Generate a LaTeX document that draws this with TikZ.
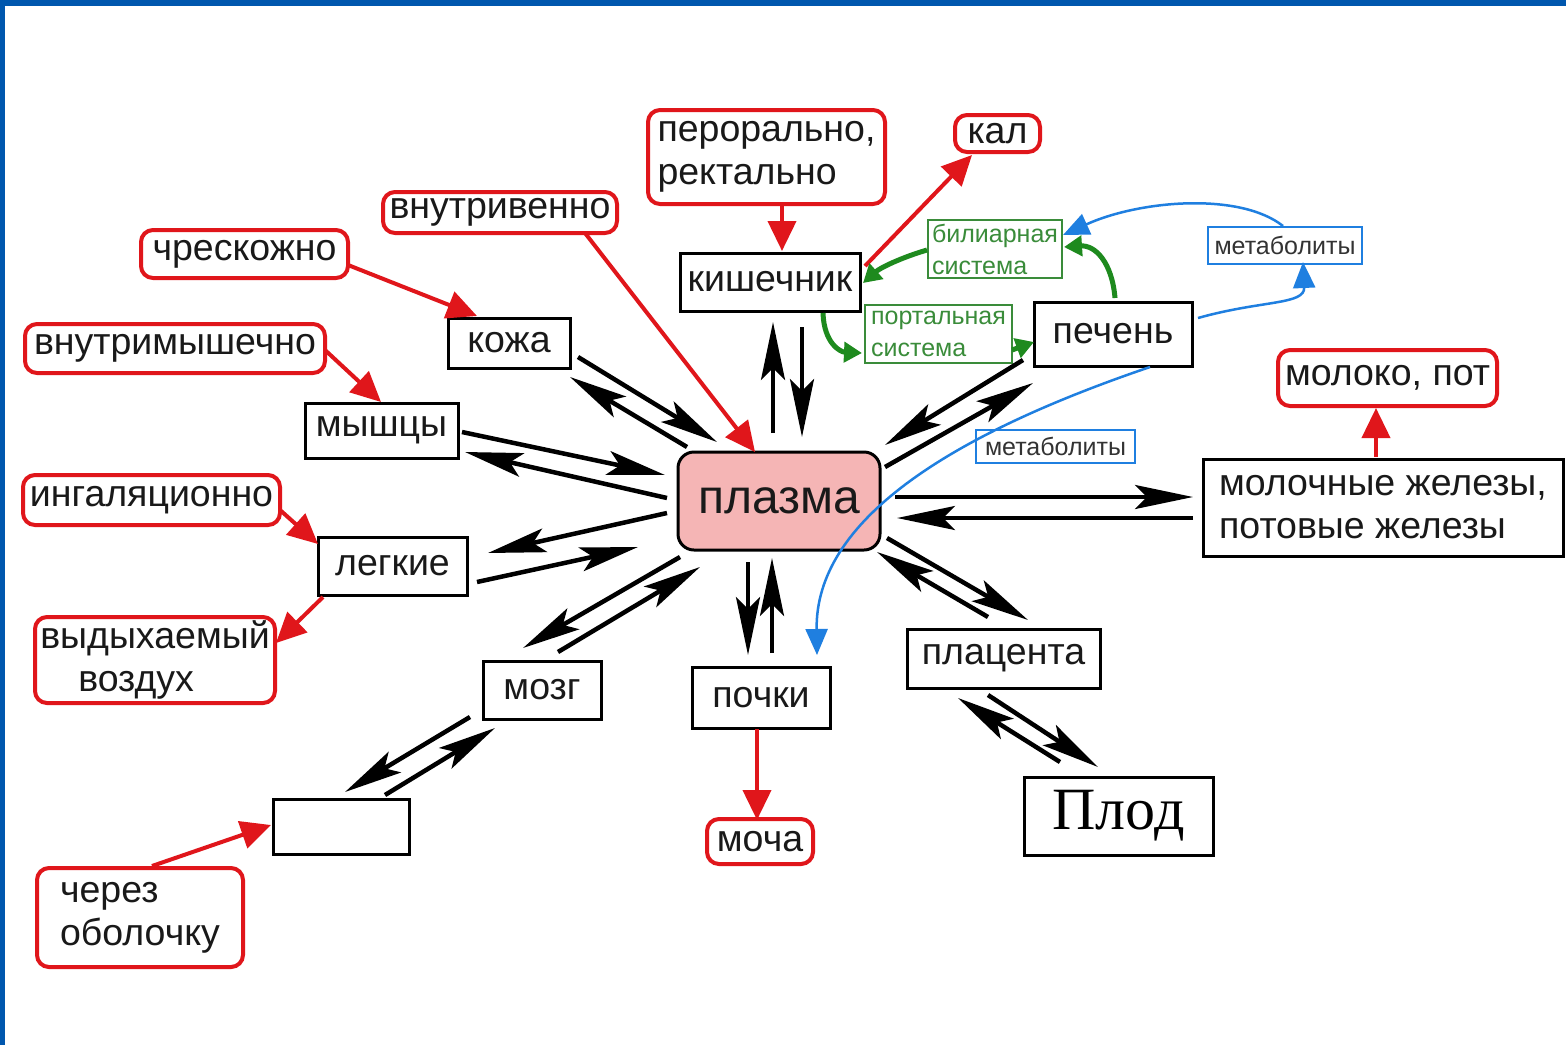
\documentclass[tikz,border=0pt]{standalone}
\usepackage{fontspec}
\setmainfont{Liberation Sans}
\newfontfamily\timesfont{Liberation Serif}
\usetikzlibrary{arrows.meta}
\definecolor{slideblue}{HTML}{0057AE}
\definecolor{rred}{HTML}{E0161B}
\definecolor{pinkfill}{HTML}{F5B5B5}
\definecolor{ggreen}{HTML}{1E8A1E}
\definecolor{gtext}{HTML}{3A8C3A}
\definecolor{bblue}{HTML}{1F7FE0}
\definecolor{btext}{HTML}{333333}
\tikzset{
  blackbox/.style={draw=black, line width=3pt, inner sep=0pt, text=black!90,
    font=\fontsize{37.5}{43}\selectfont, align=left},
  redbox/.style={draw=rred, line width=4pt, rounded corners=12pt, inner sep=0pt,
    text=black!90, font=\fontsize{37.5}{43}\selectfont, align=left},
  greenbox/.style={draw=gtext, line width=1.3pt, inner sep=0pt, text=gtext,
    font=\fontsize{25}{32}\selectfont, align=left},
  bluebox/.style={draw=bblue, line width=1.5pt, inner sep=0pt, text=btext,
    font=\fontsize{25}{30}\selectfont},
  redarr/.style={draw=rred, line width=4pt, -{Triangle[length=30pt,width=28pt]}},
  blkarr/.style={draw=black, line width=4.5pt, -{Stealth[length=58pt,width=24pt,inset=12pt]}},
  grnarr/.style={draw=ggreen, line width=5pt, -{Triangle[length=18pt,width=20pt]}},
  bluarr/.style={draw=bblue, line width=2.5pt, -{Triangle[length=26pt,width=22pt]}},
}
\begin{document}
\begin{tikzpicture}[x=1pt,y=-1pt]
\useasboundingbox (0,0) rectangle (1566,1045);
\fill[white] (0,0) rectangle (1566,1045);
\fill[slideblue] (0,0) rectangle (1566,6);
\fill[slideblue] (0,0) rectangle (5,1045);

% black boxes
\node[blackbox, minimum width=122pt, minimum height=50pt] (kozha) at (509,343) {кожа};
\node[blackbox, minimum width=153pt, minimum height=55pt] (myshcy) at (381.5,430.5) {мышцы};
\node[blackbox, minimum width=149pt, minimum height=58pt] (legkie) at (392.5,566) {легкие};
\node[blackbox, minimum width=118pt, minimum height=58pt] (mozg) at (542,690) {мозг};
\node[blackbox, minimum width=138pt, minimum height=61pt] (pochki) at (761,697.5) {почки};
\node[blackbox, minimum width=193pt, minimum height=59pt] (placenta) at (1003.5,658.5) {плацента};
\node[blackbox, minimum width=189pt, minimum height=78pt, font=\timesfont\fontsize{60}{60}\selectfont, text=black] (plod) at (1118.5,816) {Плод};
\node[blackbox, minimum width=360pt, minimum height=97pt] (moloch) at (1383,507.5) {молочные железы,\\потовые железы};
\node[blackbox, minimum width=158pt, minimum height=64pt] (pechen) at (1113,334) {печень};
\node[blackbox, minimum width=180pt, minimum height=58pt] (kishech) at (770,282) {кишечник};
\node[blackbox, minimum width=136pt, minimum height=55pt] (empty) at (341,826.5) {};
\node[draw=black, line width=3pt, fill=pinkfill, rounded corners=16pt,
  minimum width=202pt, minimum height=98pt, text=black!90,
  font=\fontsize{48}{48}\selectfont] (plasma) at (779,501) {плазма};

% red boxes
\node[redbox, minimum width=234pt, minimum height=41pt] (vnutriv) at (500,212.5) {внутривенно};
\node[redbox, minimum width=207pt, minimum height=48pt] (chresk) at (244.5,254) {чрескожно};
\node[redbox, minimum width=300pt, minimum height=49pt] (vnutrim) at (175,348.5) {внутримышечно};
\node[redbox, minimum width=257pt, minimum height=50pt] (ingal) at (151.5,500) {ингаляционно};
\node[redbox, minimum width=240pt, minimum height=86pt] (vydykh) at (155,660) {выдыхаемый\\\hspace*{38pt}воздух};
\node[redbox, minimum width=206pt, minimum height=99pt] (cherez) at (140,917.5) {через\\оболочку};
\node[redbox, minimum width=237pt, minimum height=94pt] (peroral) at (766.5,157) {перорально,\\ректально};
\node[redbox, minimum width=85pt, minimum height=37pt] (kal) at (997.5,133.5) {кал};
\node[redbox, minimum width=219pt, minimum height=56pt] (moloko) at (1387.5,378) {молоко, пот};
\node[redbox, minimum width=106pt, minimum height=45pt] (mocha) at (760,841.5) {моча};

% green boxes
\node[greenbox, minimum width=134pt, minimum height=58pt] (biliar) at (995,249) {билиарная\\система};
\node[greenbox, minimum width=147pt, minimum height=58pt] (portal) at (938.5,334) {портальная\\система};

% blue boxes
\node[bluebox, minimum width=154pt, minimum height=37pt] (metab1) at (1285,245.5) {метаболиты};
\node[bluebox, minimum width=159pt, minimum height=33pt] (metab2) at (1055.5,446.5) {метаболиты};

% red connectors
\draw[redarr] (585,233) -- (755,452);
\draw[redarr] (348,265) -- (477,316);
\draw[redarr] (325,350) -- (381,402);
\draw[redarr] (280,510) -- (318,544);
\draw[redarr] (323,597) -- (276,643);
\draw[redarr] (152,866) -- (271,825);
\draw[redarr] (782,205) -- (782,251);
\draw[redarr] (865,266) -- (972,155);
\draw[redarr] (757,729) -- (757,820);
\draw[redarr] (1376,457) -- (1376,408);

% black double connectors
\draw[blkarr] (578,357) -- (717,442);
\draw[blkarr] (687,447) -- (570,377);
\draw[blkarr] (462,432) -- (665,475);
\draw[blkarr] (667,498) -- (465,452);
\draw[blkarr] (667,513) -- (488,553);
\draw[blkarr] (477,582) -- (638,547);
\draw[blkarr] (680,557) -- (523,648);
\draw[blkarr] (558,652) -- (700,567);
\draw[blkarr] (470,717) -- (345,792);
\draw[blkarr] (385,795) -- (495,728);
\draw[blkarr] (748,562) -- (748,655);
\draw[blkarr] (772,653) -- (772,558);
\draw[blkarr] (773,433) -- (773,322);
\draw[blkarr] (802,327) -- (802,437);
\draw[blkarr] (1023,360) -- (885,445);
\draw[blkarr] (885,467) -- (1033,383);
\draw[blkarr] (895,497) -- (1193,497);
\draw[blkarr] (1193,518) -- (897,518);
\draw[blkarr] (887,538) -- (1028,620);
\draw[blkarr] (988,617) -- (877,552);
\draw[blkarr] (988,695) -- (1098,767);
\draw[blkarr] (1060,762) -- (958,698);

% green connectors
\draw[grnarr] (927,250) .. controls (900,258) and (880,268) .. (863,283);
\draw[grnarr] (1115,298) .. controls (1112,262) and (1095,245) .. (1064,247);
\draw[grnarr] (823,313) .. controls (824,343) and (840,352) .. (862,353);
\draw[grnarr] (1012,350) -- (1034,342);

% blue connectors
\draw[bluarr] (1198,318) .. controls (1262,300) and (1305,305) .. (1303,262);
\draw[bluarr] (1283,226) .. controls (1240,192) and (1140,200) .. (1063,235);
\draw[bluarr] (1150,367) .. controls (950,435) and (815,520) .. (817,655);
\end{tikzpicture}
\end{document}
